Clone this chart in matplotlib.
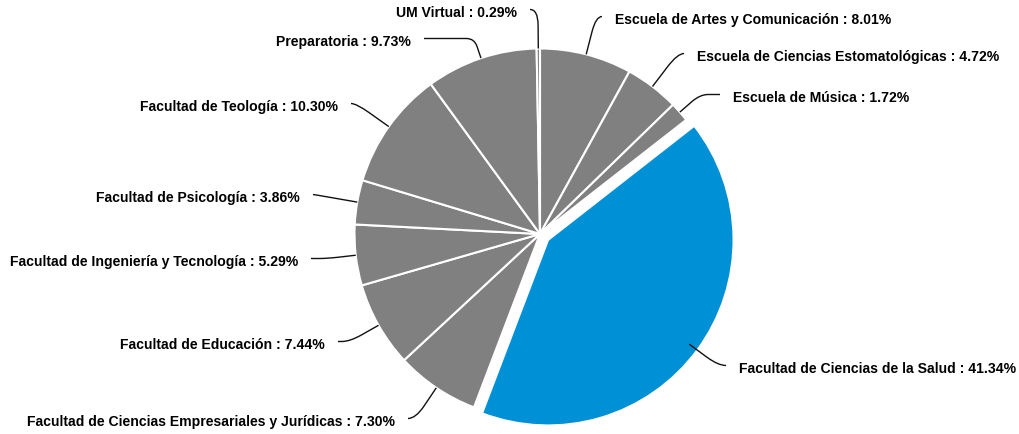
import numpy as np
import matplotlib.pyplot as plt
from matplotlib.path import Path
from matplotlib.patches import PathPatch

plt.rcParams['font.family'] = ['Liberation Sans', 'DejaVu Sans']

### Data (clockwise from the top)
schools = [
    'Escuela de Artes y Comunicación',
    'Escuela de Ciencias Estomatológicas',
    'Escuela de Música',
    'Facultad de Ciencias de la Salud',
    'Facultad de Ciencias Empresariales y Jurídicas',
    'Facultad de Educación',
    'Facultad de Ingeniería y Tecnología',
    'Facultad de Psicología',
    'Facultad de Teología',
    'Preparatoria',
    'UM Virtual',
]
shares = [8.01, 4.72, 1.72, 41.34, 7.30, 7.44, 5.29, 3.86, 10.30, 9.73, 0.29]
highlight = 'Facultad de Ciencias de la Salud'

### Layout (pixel coordinates, image y measured from the top)
W, H = 1019, 434
cx, cy, r = 540, 234, 185.5
label_xy = [(615, 20), (697, 57), (733, 98), (739, 369), (395, 422), (325, 345),
            (298, 262), (300, 198), (338, 107), (411, 42), (517, 13)]

gray, blue = '#808080', '#0090d5'
colors = [blue if s == highlight else gray for s in schools]
# matplotlib offsets exploded wedges in data units, so this is ~10 px
explode = [10 if s == highlight else 0 for s in schools]

fig = plt.figure(figsize=(W / 100, H / 100), dpi=100)
ax = fig.add_axes([0, 0, 1, 1])

wedges, _ = ax.pie(shares, colors=colors, explode=explode, startangle=90,
                   counterclock=False, center=(cx, H - cy), radius=r,
                   wedgeprops=dict(edgecolor='white', linewidth=1.5))

for w, name, val, (tx, ty) in zip(wedges, schools, shares, label_xy):
    mid = np.deg2rad((w.theta1 + w.theta2) / 2)
    d = np.array([np.cos(mid), np.sin(mid)])
    E = np.array([cx, H - cy]) + r * d
    right = d[0] >= 0 if name != 'UM Virtual' else False
    ly = H - ty + 3.5
    lx = tx - 13 if right else tx + 13
    # corner where the radial line reaches the label height
    if abs(d[1]) > 1e-3:
        kx = E[0] + (ly - E[1]) * d[0] / d[1]
    else:
        kx = E[0]
    kx = min(max(kx, min(E[0], lx)), max(E[0], lx))
    C = np.array([kx, ly])
    L = np.array([lx, ly])
    A = E + 0.6 * (C - E)
    seg = L - C
    n = np.linalg.norm(seg)
    B = C + (seg / n * min(8, n) if n > 0 else 0)
    path = Path([E, A, C, B, L],
                [Path.MOVETO, Path.LINETO, Path.CURVE3, Path.CURVE3, Path.LINETO])
    ax.add_patch(PathPatch(path, fill=False, color='#111111', lw=1.0))
    ax.text(tx, H - ty, f'{name} : {val:.2f}%', ha='left' if right else 'right',
            va='center', fontsize=10.1, fontweight='bold', color='black')

ax.set_xlim(0, W)
ax.set_ylim(0, H)
ax.set_aspect('auto')
ax.axis('off')

fig.savefig('out.png', dpi=100)
